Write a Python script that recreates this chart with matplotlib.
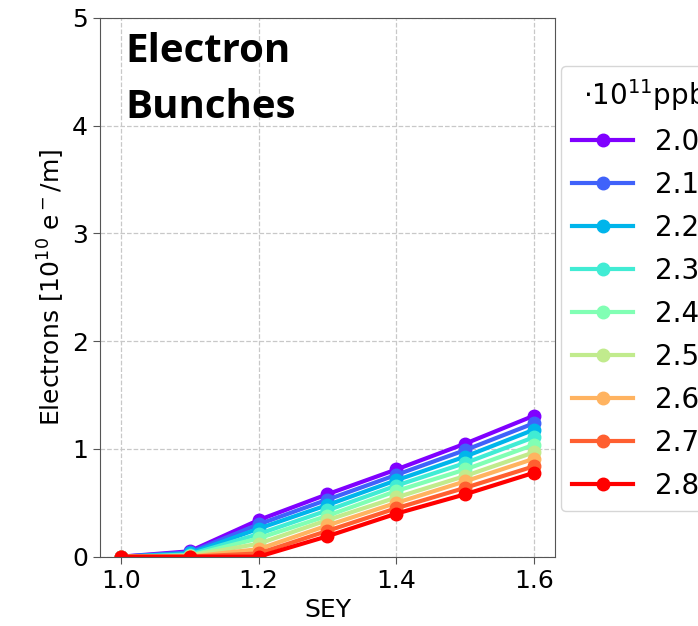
import numpy as np
import matplotlib
matplotlib.use("Agg")
import matplotlib.pyplot as plt

# Secondary electron yield scan
sey = [1.0, 1.1, 1.2, 1.3, 1.4, 1.5, 1.6]

# Bunch intensity (units of 1e11 protons per bunch)
intensities = ["2.0", "2.1", "2.2", "2.3", "2.4", "2.5", "2.6", "2.7", "2.8"]

# Electron line density [1e10 e-/m] for each intensity
e_20 = [0.0, 0.05, 0.34, 0.58, 0.81, 1.05, 1.31]
e_21 = [0.0, 0.04, 0.30, 0.53, 0.76, 0.99, 1.24]
e_22 = [0.0, 0.03, 0.26, 0.48, 0.71, 0.93, 1.18]
e_23 = [0.0, 0.02, 0.21, 0.43, 0.66, 0.87, 1.11]
e_24 = [0.0, 0.01, 0.17, 0.38, 0.61, 0.81, 1.04]
e_25 = [0.0, 0.01, 0.12, 0.34, 0.55, 0.75, 0.97]
e_26 = [0.0, 0.00, 0.07, 0.29, 0.50, 0.70, 0.91]
e_27 = [0.0, 0.00, 0.03, 0.24, 0.45, 0.64, 0.84]
e_28 = [0.0, 0.00, 0.00, 0.19, 0.40, 0.58, 0.78]
series = [e_20, e_21, e_22, e_23, e_24, e_25, e_26, e_27, e_28]

fig = plt.figure(figsize=(6.98, 6.26), dpi=100)
ax = fig.add_axes([100 / 698, 69.3 / 626, 455 / 698, 538.7 / 626])

colors = plt.cm.rainbow(np.linspace(0, 1, len(series)))
for lab, ys, c in zip(intensities, series, colors):
    ax.plot(sey, ys, "-o", color=c, lw=3, ms=9, label=lab + "0")

ax.set_ylim(0, 5)
ax.set_xticks([1.0, 1.2, 1.4, 1.6])
ax.set_yticks([0, 1, 2, 3, 4, 5])
ax.grid(True, ls="--", color="#c8c8c8", lw=0.9)
ax.tick_params(labelsize=18, color="#555555", length=5)
for s in ax.spines.values():
    s.set_color("#555555")
ax.set_xlabel("SEY", fontsize=18)
ax.set_ylabel(r"Electrons [10$^{10}$ e$^-$/m]", fontsize=18)

leg = ax.legend(title=r"$\cdot$10$^{11}$ppb", loc="upper left",
                bbox_to_anchor=(1.013, 0.911), fontsize=20,
                title_fontsize=20, handlelength=2.2, labelspacing=0.54,
                borderaxespad=0, frameon=True)
leg.get_frame().set_edgecolor("#cccccc")

# Panel caption
for line, ypix in (("Electron", 62), ("Bunches", 118)):
    fig.text(125 / 698, 1 - ypix / 626, line, fontsize=29,
             fontweight="bold", family="Open Sans", va="baseline")

fig.savefig("out.png", dpi=100)
